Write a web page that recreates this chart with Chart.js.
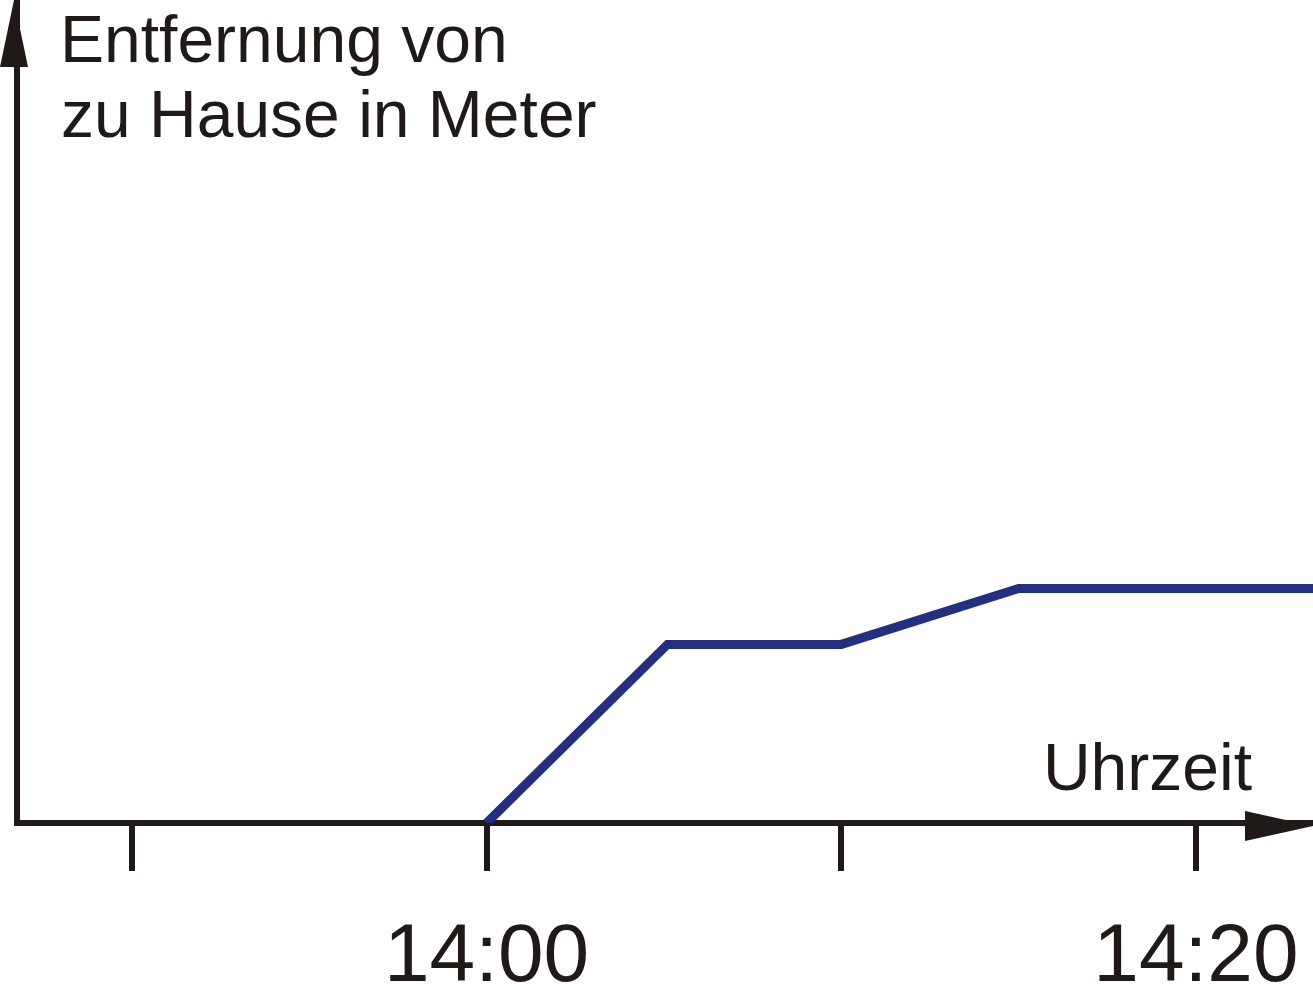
<!DOCTYPE html>
<html lang="de">
<head>
<meta charset="utf-8">
<title>Entfernung von zu Hause</title>
<script src="https://cdn.jsdelivr.net/npm/chart.js@4/dist/chart.umd.min.js"></script>
<style>
    html, body { margin: 0; padding: 0; background: #ffffff; }
    #wrap { position: relative; width: 1313px; height: 984px; }
</style>
</head>
<body>
<div id="wrap"><canvas id="chart"></canvas></div>
<script>
// Zeit in Minuten ab 14:00, Entfernung (ohne Einheit im Original, Skala 0-100)
const minutes = [0, 5.1, 10, 15, 23.3];
const distance = [0, 21.7, 21.7, 28.5, 28.5];

// Achsenmarken
const tickMinutes = [-10, 0, 10, 20];
const tickLabels = ['', '14:00', '', '14:20'];

const axisColor = '#1f1a17';
const lineColor = '#232f80';
const axisWidth = 6;

// Pfeilspitzen und Achsenbeschriftungen
const axisArrows = {
    id: 'axisArrows',
    afterDraw(chart) {
        const ctx = chart.ctx;
        const area = chart.chartArea;
        const yx = area.left - axisWidth / 2; // Mitte der y-Achse
        const xy = area.bottom + axisWidth / 2; // Mitte der x-Achse

        ctx.save();
        ctx.fillStyle = axisColor;

        // Pfeil nach oben
        ctx.beginPath();
        ctx.moveTo(yx, 0);
        ctx.lineTo(yx + 14, 67);
        ctx.lineTo(yx - 14, 67);
        ctx.closePath();
        ctx.fill();

        // Pfeil nach rechts
        ctx.beginPath();
        ctx.moveTo(area.right, xy);
        ctx.lineTo(area.right - 68, xy - 15);
        ctx.lineTo(area.right - 68, xy + 15);
        ctx.closePath();
        ctx.fill();

        // Texte
        ctx.font = '66px "Liberation Sans", Arial, sans-serif';
        ctx.textBaseline = 'alphabetic';
        ctx.textAlign = 'left';
        ctx.fillText('Entfernung von', 60, 62);
        ctx.fillText('zu Hause in Meter', 61, 137);
        ctx.textAlign = 'right';
        ctx.fillText('Uhrzeit', area.right - 61, area.bottom - 33);
        ctx.restore();
    }
};

const ctx = document.querySelector('#chart').getContext('2d');
const chart = new Chart(ctx, {
    type: 'line',
    data: {
        datasets: [{
            data: minutes.map((m, i) => ({x: m, y: distance[i]})),
            borderColor: lineColor,
            borderWidth: 9,
            borderJoinStyle: 'miter',
            borderCapStyle: 'butt',
            pointRadius: 0,
            tension: 0,
            fill: false
        }]
    },
    options: {
        responsive: true,
        maintainAspectRatio: false,
        animation: false,
        layout: {
            padding: {left: 17, top: 0, right: 0, bottom: 0}
        },
        scales: {
            x: {
                type: 'linear',
                min: -13.24,
                max: 23.3,
                afterBuildTicks: axis => {
                    axis.ticks = tickMinutes.map(v => ({value: v}));
                },
                afterFit: axis => {
                    axis.height = 161; // Platz unter der Achse wie im Original
                },
                grid: {
                    drawOnChartArea: false, // keine Gitterlinien
                    drawTicks: true,
                    tickLength: 48,
                    tickWidth: axisWidth,
                    tickColor: axisColor,
                    lineWidth: axisWidth,
                    color: axisColor
                },
                border: {
                    display: true,
                    color: axisColor,
                    width: axisWidth
                },
                ticks: {
                    autoSkip: false,
                    maxRotation: 0,
                    padding: 5,
                    color: axisColor,
                    font: {family: '"Liberation Sans", Arial, sans-serif', size: 82, lineHeight: 2},
                    callback: value => {
                        const i = tickMinutes.indexOf(value);
                        return i >= 0 ? tickLabels[i] : '';
                    }
                }
            },
            y: {
                min: 0,
                max: 100,
                grid: {
                    display: false,
                    drawTicks: false,
                    tickLength: 0
                },
                border: {
                    display: true,
                    color: axisColor,
                    width: axisWidth
                },
                ticks: {
                    display: false
                }
            }
        },
        plugins: {
            legend: {display: false},
            tooltip: {enabled: false},
            title: {display: false}
        }
    },
    plugins: [axisArrows]
});
</script>
</body>
</html>
